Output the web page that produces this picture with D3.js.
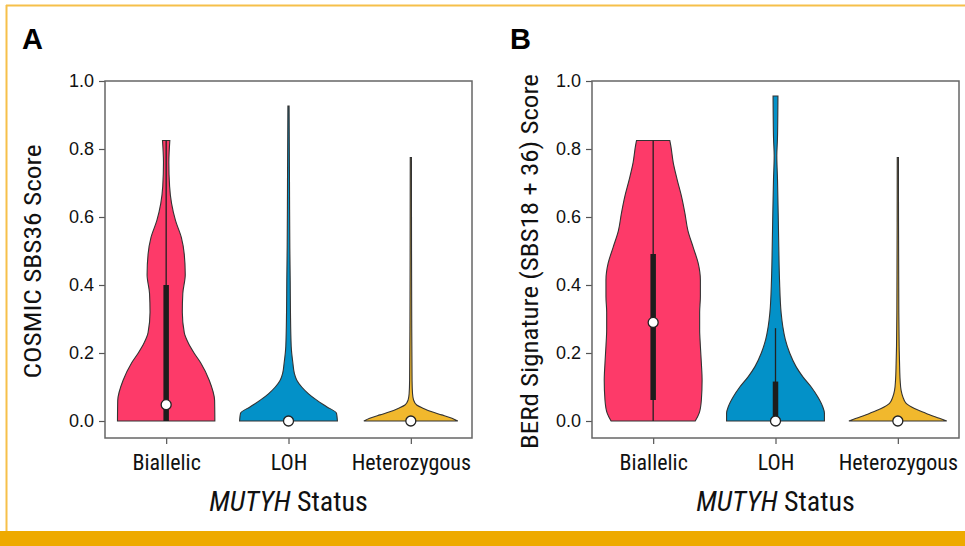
<!DOCTYPE html>
<html>
<head>
<meta charset="utf-8">
<script src="https://cdn.jsdelivr.net/npm/d3@7"></script>
<style>
  body { margin: 0; background: #fff; }
  svg { display: block; }
  .tick text { font-family: "Liberation Sans", Arial, sans-serif; }
</style>
</head>
<body>
<div id="chart"></div>
<script>
const categories = ['Biallelic', 'LOH', 'Heterozygous'];
const yTicks = [0.0, 0.2, 0.4, 0.6, 0.8, 1.0];
const colors = ['#fd3a69', '#0391c8', '#f1b82d'];

// violin outlines: [score, relative half width]
const sbs36Biallelic = [[0, 0.995], [0.06, 0.99], [0.12, 0.88], [0.17, 0.71], [0.2, 0.57], [0.23, 0.45], [0.26, 0.37],
  [0.32, 0.33], [0.375, 0.34], [0.43, 0.39], [0.49, 0.37], [0.54, 0.31], [0.59, 0.19], [0.64, 0.11],
  [0.69, 0.07], [0.76, 0.055], [0.825, 0.075]];
const sbs36Loh = [[0, 1.0], [0.023, 0.98], [0.042, 0.78], [0.062, 0.57], [0.08, 0.41], [0.1, 0.27], [0.12, 0.17],
  [0.14, 0.12], [0.17, 0.09], [0.22, 0.055], [0.32, 0.04], [0.41, 0.035], [0.51, 0.027], [0.71, 0.02], [0.926, 0.012]];
const sbs36Het = [[0, 0.96], [0.008, 0.84], [0.018, 0.63], [0.027, 0.43], [0.037, 0.26], [0.047, 0.12], [0.062, 0.055],
  [0.08, 0.035], [0.12, 0.025], [0.3, 0.018], [0.775, 0.012]];

const berdBiallelic = [[0, 0.86], [0.023, 0.94], [0.062, 0.985], [0.12, 1.0], [0.17, 0.985], [0.22, 0.965], [0.27, 0.95],
  [0.32, 0.95], [0.366, 0.965], [0.415, 0.965], [0.464, 0.92], [0.51, 0.82], [0.56, 0.71], [0.61, 0.65],
  [0.66, 0.58], [0.71, 0.49], [0.76, 0.41], [0.81, 0.36], [0.825, 0.34]];
const berdLoh = [[0, 1.0], [0.023, 1.0], [0.042, 0.965], [0.072, 0.86], [0.1, 0.73], [0.13, 0.56], [0.16, 0.42], [0.2, 0.29],
  [0.24, 0.2], [0.277, 0.15], [0.317, 0.116], [0.415, 0.082], [0.513, 0.067], [0.61, 0.055], [0.71, 0.041],
  [0.78, 0.027], [0.83, 0.04], [0.9, 0.047], [0.956, 0.05]];
const berdHet = [[0, 1.0], [0.008, 0.85], [0.023, 0.57], [0.037, 0.34], [0.052, 0.17], [0.072, 0.1], [0.09, 0.067],
  [0.12, 0.047], [0.17, 0.035], [0.22, 0.027], [0.32, 0.02], [0.775, 0.012]];

// inner box plot stats, one value per category
const sbs36Median = [0.048, 0, 0];
const sbs36Q1 = [0, 0, 0];
const sbs36Q3 = [0.40, 0.004, 0.003];
const sbs36WhiskerHi = [0.825, 0.01, 0.006];

const berdMedian = [0.29, 0, 0];
const berdQ1 = [0.062, 0, 0];
const berdQ3 = [0.491, 0.116, 0.003];
const berdWhiskerHi = [0.825, 0.273, 0.006];

const W = 965, H = 546;
const condFont = '"Roboto Condensed", "Liberation Sans Narrow", Roboto, sans-serif';
const svg = d3.select('#chart').append('svg').attr('width', W).attr('height', H);

// journal frame
svg.append('line').attr('x1', 6).attr('x2', W).attr('y1', 5.5).attr('y2', 5.5)
  .attr('stroke', '#f6c04a').attr('stroke-width', 2);
svg.append('line').attr('x1', 6.5).attr('x2', 6.5).attr('y1', 5).attr('y2', 532)
  .attr('stroke', '#f6c04a').attr('stroke-width', 2);
svg.append('rect').attr('x', 0).attr('y', 531).attr('width', W).attr('height', H - 531).attr('fill', '#eeaa00');

function drawPanel(p) {
  const x = d3.scalePoint().domain(categories).range([p.left, p.right]).padding(0.5);
  const y = d3.scaleLinear().domain([-0.05, 1]).range([p.bottom, p.top]);
  const w = d3.scaleLinear().domain([0, 1]).range([0, x.step() * 0.4]);
  const g = svg.append('g');

  // axes
  const ya = g.append('g').attr('transform', `translate(${p.left},0)`)
    .call(d3.axisLeft(y).tickValues(yTicks).tickFormat(d3.format('.1f')).tickSize(6).tickPadding(5));
  ya.select('.domain').remove();
  ya.selectAll('line').attr('stroke', '#555').attr('stroke-width', 1.2);
  ya.selectAll('text').attr('font-size', 18).attr('fill', '#111');

  const xa = g.append('g').attr('transform', `translate(0,${p.bottom})`)
    .call(d3.axisBottom(x).tickSize(6).tickPadding(10));
  xa.select('.domain').remove();
  xa.selectAll('line').attr('stroke', '#555').attr('stroke-width', 1.2);
  xa.selectAll('text').style('font-family', condFont)
    .attr('font-size', 22).attr('fill', '#111');

  // violins
  p.violins.forEach((v, i) => {
    const cx = x(categories[i]);
    const area = d3.area()
      .y(d => y(d[0]))
      .x0(d => cx - w(d[1]))
      .x1(d => cx + w(d[1]))
      .curve(d3.curveMonotoneY);
    g.append('path').datum(v).attr('d', area)
      .attr('fill', colors[i]).attr('stroke', '#333').attr('stroke-width', 1.1);
  });

  // box inside violin
  categories.forEach((c, i) => {
    const cx = x(c);
    g.append('line').attr('x1', cx).attr('x2', cx).attr('y1', y(0)).attr('y2', y(p.whiskerHi[i]))
      .attr('stroke', '#222').attr('stroke-width', 1.3);
    g.append('line').attr('x1', cx).attr('x2', cx).attr('y1', y(p.q1[i])).attr('y2', y(p.q3[i]))
      .attr('stroke', '#1d1d1d').attr('stroke-width', 5.5);
    g.append('circle').attr('cx', cx).attr('cy', y(p.median[i])).attr('r', 5)
      .attr('fill', '#fff').attr('stroke', '#222').attr('stroke-width', 1.3);
  });

  // frame
  g.append('rect').attr('x', p.left).attr('y', p.top)
    .attr('width', p.right - p.left).attr('height', p.bottom - p.top)
    .attr('fill', 'none').attr('stroke', '#666').attr('stroke-width', 1.5);

  // labels
  g.append('text').attr('x', p.letterX).attr('y', 49)
    .attr('font-family', '"Liberation Sans", Arial, sans-serif').attr('font-weight', 'bold')
    .attr('font-size', 29).text(p.letter);

  g.append('text').style('font-family', condFont)
    .attr('transform', `translate(${p.yLabelX},${(p.top + p.bottom) / 2 + 2}) rotate(-90)`)
    .attr('text-anchor', 'middle').attr('font-size', 23).attr('fill', '#111')
    .attr('textLength', p.yLabelLen).attr('lengthAdjust', 'spacingAndGlyphs')
    .text(p.yLabel);

  const xl = g.append('text').style('font-family', condFont)
    .attr('x', x('LOH')).attr('y', 511)
    .attr('text-anchor', 'middle').attr('font-size', 28).attr('fill', '#111');
  xl.append('tspan').attr('font-style', 'italic').text('MUTYH');
  xl.append('tspan').text(' Status');
}

drawPanel({
  left: 105, right: 472, top: 81, bottom: 438,
  letter: 'A', letterX: 22,
  yLabel: 'COSMIC SBS36 Score', yLabelX: 41, yLabelLen: 234,
  violins: [sbs36Biallelic, sbs36Loh, sbs36Het],
  median: sbs36Median, q1: sbs36Q1, q3: sbs36Q3, whiskerHi: sbs36WhiskerHi
});

drawPanel({
  left: 592, right: 959, top: 81, bottom: 438,
  letter: 'B', letterX: 510,
  yLabel: 'BERd Signature (SBS18 + 36) Score', yLabelX: 538, yLabelLen: 375,
  violins: [berdBiallelic, berdLoh, berdHet],
  median: berdMedian, q1: berdQ1, q3: berdQ3, whiskerHi: berdWhiskerHi
});
</script>
</body>
</html>
